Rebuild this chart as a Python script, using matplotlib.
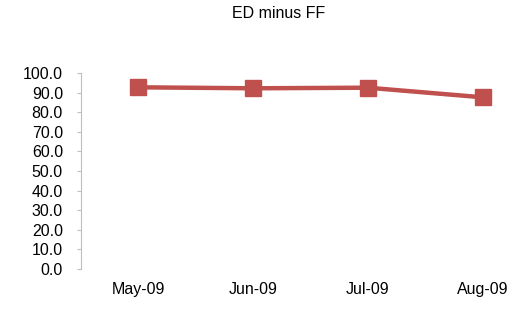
import matplotlib.pyplot as plt

months = ['May-09', 'Jun-09', 'Jul-09', 'Aug-09']
ed_minus_ff = [92.7, 92.2, 92.5, 87.6]

plt.rcParams['font.family'] = ['Liberation Sans', 'DejaVu Sans']

fig = plt.figure(figsize=(5.15, 3.09), dpi=100)
# plot area runs past the right edge in the original, so keep that
ax = fig.add_axes([81 / 515, 1 - 269 / 309, 459 / 515, 196 / 309])

ax.plot(range(len(months)), ed_minus_ff, color='#C0504D', lw=3.2,
        marker='s', markersize=11, markeredgecolor='#C0504D')

ax.set_xlim(-0.5, len(months) - 0.5)
ax.set_ylim(0, 100)
ax.set_yticks(range(0, 101, 10))
ax.set_yticklabels(['%.1f' % v for v in range(0, 101, 10)])
ax.set_xticks(range(len(months)))
ax.set_xticklabels(months)

for s in ['top', 'right', 'bottom']:
    ax.spines[s].set_visible(False)
ax.spines['left'].set_color('#BFBFBF')
ax.tick_params(axis='y', length=3, color='#BFBFBF', pad=10, labelsize=11.5)
ax.tick_params(axis='x', length=0, pad=9.5, labelsize=11.5)

fig.text(279 / 515, 1 - 13.5 / 309, 'ED minus FF', ha='center', va='center', fontsize=11.5)

fig.savefig('out.png', dpi=100)
